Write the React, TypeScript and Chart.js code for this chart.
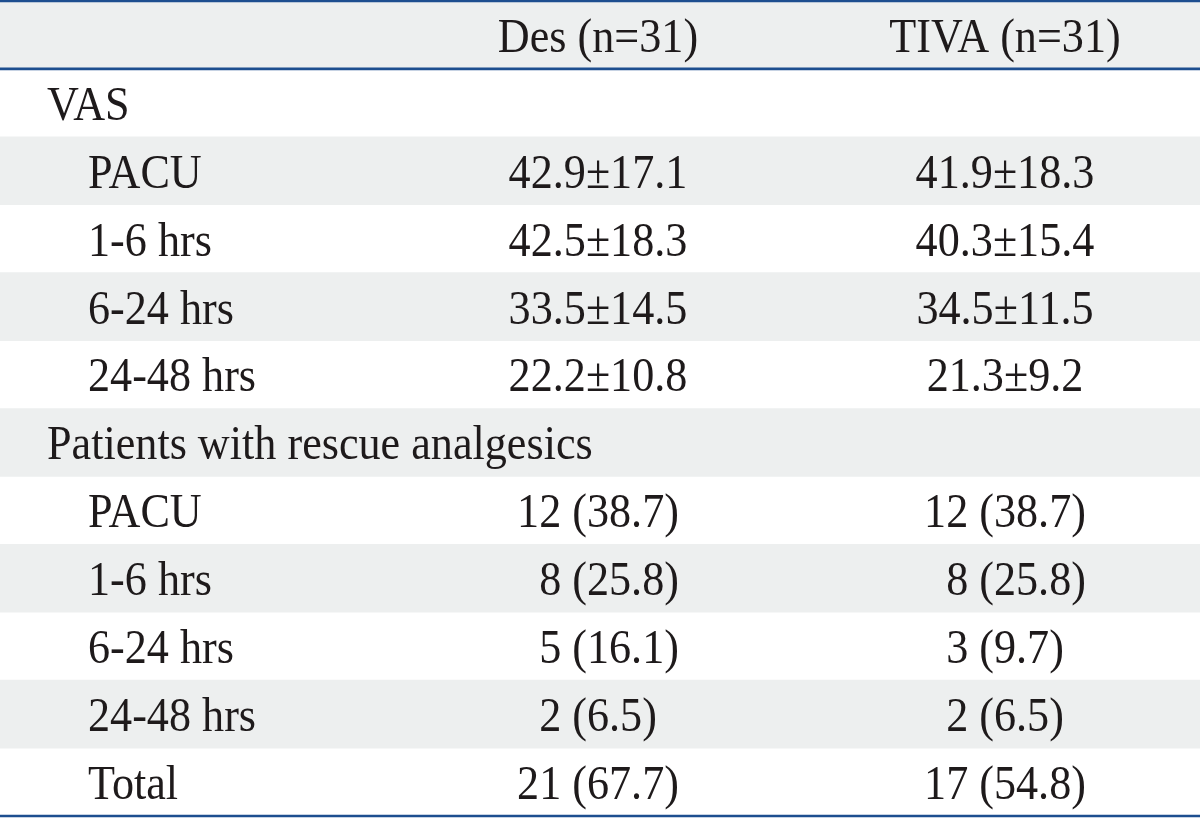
import React, { useEffect, useRef } from "react";
import { Chart, registerables } from "chart.js";

Chart.register(...registerables);

// ---- data ----
const headerLabels = ["", "Des (n=31)", "TIVA (n=31)"];
const rowLabels = [
  "VAS",
  "PACU",
  "1-6 hrs",
  "6-24 hrs",
  "24-48 hrs",
  "Patients with rescue analgesics",
  "PACU",
  "1-6 hrs",
  "6-24 hrs",
  "24-48 hrs",
  "Total",
];
const rowLevels = [0, 1, 1, 1, 1, 0, 1, 1, 1, 1, 1];
const desValues = [
  "",
  "42.9±17.1",
  "42.5±18.3",
  "33.5±14.5",
  "22.2±10.8",
  "",
  "12 (38.7)",
  "8 (25.8)",
  "5 (16.1)",
  "2 (6.5)",
  "21 (67.7)",
];
const tivaValues = [
  "",
  "41.9±18.3",
  "40.3±15.4",
  "34.5±11.5",
  "21.3±9.2",
  "",
  "12 (38.7)",
  "8 (25.8)",
  "3 (9.7)",
  "2 (6.5)",
  "17 (54.8)",
];

// ---- layout / style ----
const W = 1200;
const H = 818;
const X_MAX = 1200;
const LABEL_X = [47, 88];
const COL_CENTER = [598, 1005];
const FONT_SIZE = 48;
const SCALE_X = 0.92;
const FONT = `${FONT_SIZE}px "Liberation Serif", "Times New Roman", serif`;
const TEXT_COLOR = "#1e1a1b";
const SHADE = "#edefef";
const RULE = "#1d4e8f";
const RULE_W = 2.6;

const allRows = ["__header__", ...rowLabels];

function drawText(ctx: CanvasRenderingContext2D, text: string, x: number, y: number, align: CanvasTextAlign) {
  ctx.save();
  ctx.translate(x, y);
  ctx.scale(SCALE_X, 1);
  ctx.textAlign = align;
  ctx.fillText(text, 0, 0);
  ctx.restore();
}

function textWidth(ctx: CanvasRenderingContext2D, text: string) {
  return ctx.measureText(text).width * SCALE_X;
}

const tablePlugin = {
  id: "tableText",
  afterDatasetsDraw(chart: any) {
    const { ctx, chartArea, scales } = chart;
    const ys = scales.y;
    const xs = scales.x;
    ctx.save();
    ctx.font = FONT;
    ctx.fillStyle = TEXT_COLOR;
    ctx.textBaseline = "alphabetic";
    const capOffset = (FONT_SIZE * 0.662) / 2 + 1;

    const columns = [desValues, tivaValues];
    const digitW = textWidth(ctx, "0");

    // header
    const hy = ys.getPixelForValue(0) + capOffset;
    headerLabels.forEach((lab, ci) => {
      if (!lab) return;
      drawText(ctx, lab, xs.getPixelForValue(COL_CENTER[ci - 1]), hy, "center");
    });

    rowLabels.forEach((lab, ri) => {
      const y = ys.getPixelForValue(ri + 1) + capOffset;
      drawText(ctx, lab, xs.getPixelForValue(LABEL_X[rowLevels[ri]]), y, "left");
      columns.forEach((vals, ci) => {
        const v = vals[ri];
        if (!v) return;
        const cx = xs.getPixelForValue(COL_CENTER[ci]);
        const m = /^(\d+) \(/.exec(v);
        if (m) {
          const counts = vals.filter((s) => /^\d+ \(/.test(s));
          const maxDigits = Math.max(...counts.map((s) => s.split(" ")[0].length));
          const ref = counts.find((s) => s.split(" ")[0].length === maxDigits) as string;
          const left = cx - textWidth(ctx, ref) / 2 + (maxDigits - m[1].length) * digitW;
          drawText(ctx, v, left, y, "left");
        } else {
          drawText(ctx, v, cx, y, "center");
        }
      });
    });

    // rules
    ctx.strokeStyle = RULE;
    ctx.lineWidth = RULE_W;
    const lines = [chartArea.top, (ys.getPixelForValue(0) + ys.getPixelForValue(1)) / 2, chartArea.bottom];
    lines.forEach((ly: number) => {
      ctx.beginPath();
      ctx.moveTo(chartArea.left, ly);
      ctx.lineTo(chartArea.right, ly);
      ctx.stroke();
    });
    ctx.restore();
  },
};

export default function App() {
  const ref = useRef<HTMLCanvasElement | null>(null);
  useEffect(() => {
    if (!ref.current) return;
    const shadeData = allRows.map((_, i) => (i % 2 === 0 ? [0, X_MAX] : null));
    const chart = new Chart(ref.current, {
      type: "bar",
      data: {
        labels: allRows,
        datasets: [
          {
            data: shadeData as any,
            backgroundColor: SHADE,
            borderWidth: 0,
            categoryPercentage: 1,
            barPercentage: 1,
          },
        ],
      },
      options: {
        indexAxis: "y",
        animation: false,
        responsive: false,
        devicePixelRatio: 1,
        events: [],
        layout: { padding: { top: 1, bottom: 2, left: 0, right: 0 } },
        plugins: {
          legend: { display: false },
          tooltip: { enabled: false },
          title: { display: false },
        },
        scales: {
          x: { type: "linear", min: 0, max: X_MAX, display: false },
          y: { type: "category", display: false, offset: true, grid: { display: false } },
        },
      },
      plugins: [tablePlugin],
    });
    return () => chart.destroy();
  }, []);
  return (
    <div style={{ position: "fixed", left: 0, top: 0, width: W, height: H, background: "#fff" }}>
      <canvas ref={ref} width={W} height={H} style={{ width: W, height: H, display: "block" }} />
    </div>
  );
}
